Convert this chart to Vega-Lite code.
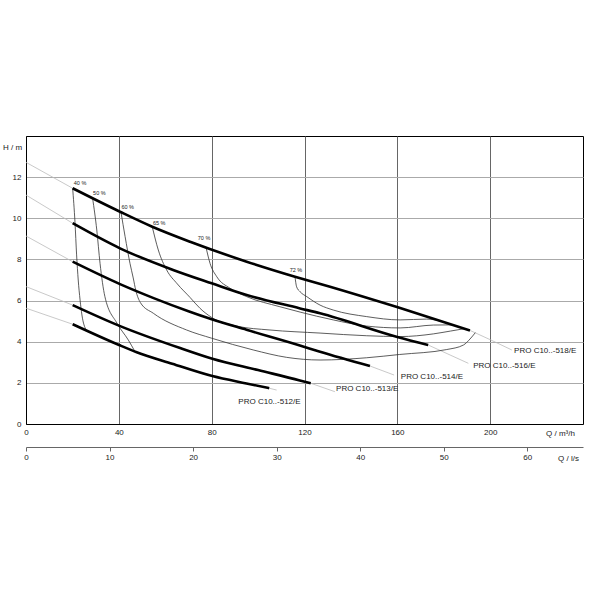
{
  "$schema": "https://vega.github.io/schema/vega-lite/v6.json",
  "width": 557,
  "height": 288,
  "autosize": "none",
  "padding": {"left": 26, "top": 136, "right": 17, "bottom": 176},
  "background": "white",
  "config": {
    "view": {"stroke": "black", "strokeWidth": 1},
    "font": "Liberation Sans",
    "text": {"font": "Liberation Sans"},
    "axis": {"labelFont": "Liberation Sans", "titleFont": "Liberation Sans", "labelColor": "#222", "titleColor": "#222", "titleFontWeight": "normal"}
  },
  "datasets": {
    "pumps": [
      {"s": "518", "Q": 20.1, "H": 11.46}, {"s": "518", "Q": 40.5, "H": 10.32}, {"s": "518", "Q": 54.4, "H": 9.59}, {"s": "518", "Q": 70.7, "H": 8.86}, {"s": "518", "Q": 95.1, "H": 7.89}, {"s": "518", "Q": 115.9, "H": 7.16}, {"s": "518", "Q": 131, "H": 6.67}, {"s": "518", "Q": 160.2, "H": 5.67}, {"s": "518", "Q": 191.3, "H": 4.55},
      {"s": "516", "Q": 20.1, "H": 9.76}, {"s": "516", "Q": 40.5, "H": 8.54}, {"s": "516", "Q": 63.4, "H": 7.49}, {"s": "516", "Q": 80, "H": 6.84}, {"s": "516", "Q": 95.1, "H": 6.27}, {"s": "516", "Q": 118.1, "H": 5.62}, {"s": "516", "Q": 126.7, "H": 5.38}, {"s": "516", "Q": 160, "H": 4.23}, {"s": "516", "Q": 173.3, "H": 3.84},
      {"s": "514", "Q": 20.1, "H": 7.89}, {"s": "514", "Q": 40.5, "H": 6.8}, {"s": "514", "Q": 55, "H": 6.12}, {"s": "514", "Q": 70, "H": 5.48}, {"s": "514", "Q": 80, "H": 5.09}, {"s": "514", "Q": 95, "H": 4.58}, {"s": "514", "Q": 118, "H": 3.82}, {"s": "514", "Q": 126.7, "H": 3.51}, {"s": "514", "Q": 148.2, "H": 2.82},
      {"s": "513", "Q": 20.1, "H": 5.78}, {"s": "513", "Q": 40.3, "H": 4.77}, {"s": "513", "Q": 66.4, "H": 3.69}, {"s": "513", "Q": 80.3, "H": 3.17}, {"s": "513", "Q": 100, "H": 2.62}, {"s": "513", "Q": 118, "H": 2.12}, {"s": "513", "Q": 122.7, "H": 1.98},
      {"s": "512", "Q": 20.1, "H": 4.85}, {"s": "512", "Q": 40.1, "H": 3.84}, {"s": "512", "Q": 47.7, "H": 3.49}, {"s": "512", "Q": 63, "H": 2.93}, {"s": "512", "Q": 80.3, "H": 2.33}, {"s": "512", "Q": 95, "H": 1.97}, {"s": "512", "Q": 104.8, "H": 1.74}
    ],
    "ext": [
      {"s": "518L", "Q": 0, "H": 12.72}, {"s": "518L", "Q": 20.1, "H": 11.46},
      {"s": "518R", "Q": 191.3, "H": 4.55}, {"s": "518R", "Q": 200, "H": 4.1}, {"s": "518R", "Q": 209.3, "H": 3.6},
      {"s": "516L", "Q": 0, "H": 11.13}, {"s": "516L", "Q": 20.1, "H": 9.76},
      {"s": "516R", "Q": 173.3, "H": 3.84}, {"s": "516R", "Q": 190.6, "H": 2.95},
      {"s": "514L", "Q": 0, "H": 9.14}, {"s": "514L", "Q": 20.1, "H": 7.89},
      {"s": "514R", "Q": 148.2, "H": 2.82}, {"s": "514R", "Q": 158.6, "H": 2.38},
      {"s": "513L", "Q": 0, "H": 6.68}, {"s": "513L", "Q": 20.1, "H": 5.78},
      {"s": "513R", "Q": 122.7, "H": 1.98}, {"s": "513R", "Q": 133.1, "H": 1.57},
      {"s": "512L", "Q": 0, "H": 5.63}, {"s": "512L", "Q": 20.1, "H": 4.85},
      {"s": "512R", "Q": 104.8, "H": 1.74}, {"s": "512R", "Q": 108, "H": 1.65}
    ],
    "eff": [
      {"s": "40", "Q": 20.1, "H": 11.46}, {"s": "40", "Q": 21.1, "H": 9.82}, {"s": "40", "Q": 21.8, "H": 8.22}, {"s": "40", "Q": 22.5, "H": 7.0}, {"s": "40", "Q": 23.3, "H": 6.03}, {"s": "40", "Q": 24.1, "H": 5.3}, {"s": "40", "Q": 25.9, "H": 4.57},
      {"s": "50", "Q": 28.7, "H": 10.97}, {"s": "50", "Q": 30.5, "H": 9.43}, {"s": "50", "Q": 31.9, "H": 7.81}, {"s": "50", "Q": 34.0, "H": 6.19}, {"s": "50", "Q": 39.2, "H": 4.9}, {"s": "50", "Q": 44.1, "H": 4.08}, {"s": "50", "Q": 47.0, "H": 3.51},
      {"s": "60", "Q": 40.9, "H": 10.32}, {"s": "60", "Q": 42.7, "H": 9.11}, {"s": "60", "Q": 44.8, "H": 7.81}, {"s": "60", "Q": 46.2, "H": 7.1}, {"s": "60", "Q": 47.3, "H": 6.5}, {"s": "60", "Q": 49.3, "H": 5.9}, {"s": "60", "Q": 54.9, "H": 5.38}, {"s": "60", "Q": 69.2, "H": 4.57}, {"s": "60", "Q": 80.0, "H": 4.17}, {"s": "60", "Q": 97.9, "H": 3.6}, {"s": "60", "Q": 112.3, "H": 3.24}, {"s": "60", "Q": 126.7, "H": 3.11}, {"s": "60", "Q": 146.8, "H": 3.22}, {"s": "60", "Q": 161, "H": 3.38}, {"s": "60", "Q": 181.3, "H": 3.62}, {"s": "60", "Q": 188.5, "H": 3.84}, {"s": "60", "Q": 191.3, "H": 4.13}, {"s": "60", "Q": 193.6, "H": 4.44},
      {"s": "65", "Q": 54.4, "H": 9.59}, {"s": "65", "Q": 57.0, "H": 8.46}, {"s": "65", "Q": 60.6, "H": 7.49}, {"s": "65", "Q": 65.2, "H": 6.81}, {"s": "65", "Q": 70.7, "H": 6.15}, {"s": "65", "Q": 75.0, "H": 5.62}, {"s": "65", "Q": 80, "H": 5.18}, {"s": "65", "Q": 90.8, "H": 4.76}, {"s": "65", "Q": 105.1, "H": 4.57}, {"s": "65", "Q": 126.7, "H": 4.42}, {"s": "65", "Q": 146.8, "H": 4.29}, {"s": "65", "Q": 161.2, "H": 4.25}, {"s": "65", "Q": 175.5, "H": 4.38}, {"s": "65", "Q": 183, "H": 4.52}, {"s": "65", "Q": 189.2, "H": 4.64},
      {"s": "70", "Q": 77.6, "H": 8.57}, {"s": "70", "Q": 79.3, "H": 7.81}, {"s": "70", "Q": 82.2, "H": 7.16}, {"s": "70", "Q": 87.9, "H": 6.6}, {"s": "70", "Q": 95.1, "H": 6.19}, {"s": "70", "Q": 109.4, "H": 5.7}, {"s": "70", "Q": 118.1, "H": 5.44}, {"s": "70", "Q": 132.4, "H": 5.06}, {"s": "70", "Q": 146.8, "H": 4.76}, {"s": "70", "Q": 161.2, "H": 4.67}, {"s": "70", "Q": 175.5, "H": 4.81}, {"s": "70", "Q": 184, "H": 4.82},
      {"s": "72", "Q": 115.9, "H": 7.16}, {"s": "72", "Q": 116.6, "H": 6.67}, {"s": "72", "Q": 118.1, "H": 6.43}, {"s": "72", "Q": 121.0, "H": 6.19}, {"s": "72", "Q": 126.7, "H": 5.78}, {"s": "72", "Q": 132.4, "H": 5.54}, {"s": "72", "Q": 146.8, "H": 5.22}, {"s": "72", "Q": 161.2, "H": 5.06}, {"s": "72", "Q": 172.7, "H": 5.1}, {"s": "72", "Q": 179.8, "H": 4.97}
    ],
    "pumpLabels": [
      {"Q": 210.3, "H": 3.56, "t": "PRO C10..-518/E"},
      {"Q": 192.7, "H": 2.82, "t": "PRO C10..-516/E"},
      {"Q": 161.5, "H": 2.27, "t": "PRO C10..-514/E"},
      {"Q": 133.6, "H": 1.7, "t": "PRO C10..-513/E"},
      {"Q": 91.5, "H": 1.08, "t": "PRO C10..-512/E"}
    ],
    "pctLabels": [
      {"Q": 23.3, "H": 11.73, "t": "40 %"},
      {"Q": 31.6, "H": 11.25, "t": "50 %"},
      {"Q": 43.8, "H": 10.56, "t": "60 %"},
      {"Q": 57.4, "H": 9.76, "t": "65 %"},
      {"Q": 76.7, "H": 9.04, "t": "70 %"},
      {"Q": 116.3, "H": 7.49, "t": "72 %"}
    ]
  },
  "layer": [
    {
      "data": {"name": "ext"},
      "mark": {"type": "line", "color": "#bbbbbb", "strokeWidth": 0.8, "interpolate": "monotone"},
      "encoding": {
        "x": {"field": "Q", "type": "quantitative", "scale": {"domain": [0, 240], "nice": false, "zero": false},
          "axis": {"values": [0, 40, 80, 120, 160, 200], "grid": true, "gridColor": "#666", "gridWidth": 1, "tickSize": 0, "domainColor": "black", "domainWidth": 1, "labelFontSize": 8, "labelPadding": 4, "labelFlush": false, "labelOverlap": false, "title": "Q / m³/h", "titleFontSize": 8, "titleAlign": "center", "titleBaseline": "middle", "titleX": 534, "titleY": 9, "titleAngle": 0}},
        "y": {"field": "H", "type": "quantitative", "scale": {"domain": [0, 14], "nice": false, "zero": false},
          "axis": {"values": [0, 2, 4, 6, 8, 10, 12], "grid": true, "gridColor": "#aaaaaa", "gridWidth": 1.2, "tickSize": 0, "domainColor": "black", "domainWidth": 1, "labelFontSize": 8, "labelPadding": 5, "labelOverlap": false, "title": "H / m", "titleFontSize": 8, "titleAngle": 0, "titleAlign": "center", "titleBaseline": "middle", "titleX": -14, "titleY": 11}},
        "detail": {"field": "s"}
      }
    },
    {
      "data": {"name": "eff"},
      "mark": {"type": "line", "color": "#333333", "strokeWidth": 0.8, "interpolate": "monotone"},
      "encoding": {
        "x": {"field": "Q", "type": "quantitative", "axis": null},
        "y": {"field": "H", "type": "quantitative"},
        "detail": {"field": "s"}
      }
    },
    {
      "data": {"name": "pumps"},
      "mark": {"type": "line", "color": "black", "strokeWidth": 2.6, "interpolate": "monotone"},
      "encoding": {
        "x": {"field": "Q", "type": "quantitative",
          "axis": {"orient": "bottom", "offset": 23, "values": [0, 36, 72, 108, 144, 180, 216], "labelExpr": "round(datum.value / 3.6)", "grid": false, "tickSize": 4, "tickColor": "#666", "domainColor": "#666", "domainWidth": 1, "labelFontSize": 8, "labelPadding": 2, "labelFlush": false, "labelOverlap": false, "title": "Q / l/s", "titleFontSize": 8, "titleAlign": "center", "titleBaseline": "middle", "titleX": 542, "titleY": 11, "titleAngle": 0}},
        "y": {"field": "H", "type": "quantitative"},
        "detail": {"field": "s"}
      }
    },
    {
      "data": {"name": "pumpLabels"},
      "mark": {"type": "text", "align": "left", "baseline": "middle", "fontSize": 8, "color": "#222"},
      "encoding": {
        "x": {"field": "Q", "type": "quantitative", "axis": null},
        "y": {"field": "H", "type": "quantitative"},
        "text": {"field": "t"}
      }
    },
    {
      "data": {"name": "pctLabels"},
      "mark": {"type": "text", "align": "center", "baseline": "middle", "fontSize": 5.5, "color": "#222"},
      "encoding": {
        "x": {"field": "Q", "type": "quantitative", "axis": null},
        "y": {"field": "H", "type": "quantitative"},
        "text": {"field": "t"}
      }
    }
  ],
  "resolve": {"axis": {"x": "independent"}}
}
